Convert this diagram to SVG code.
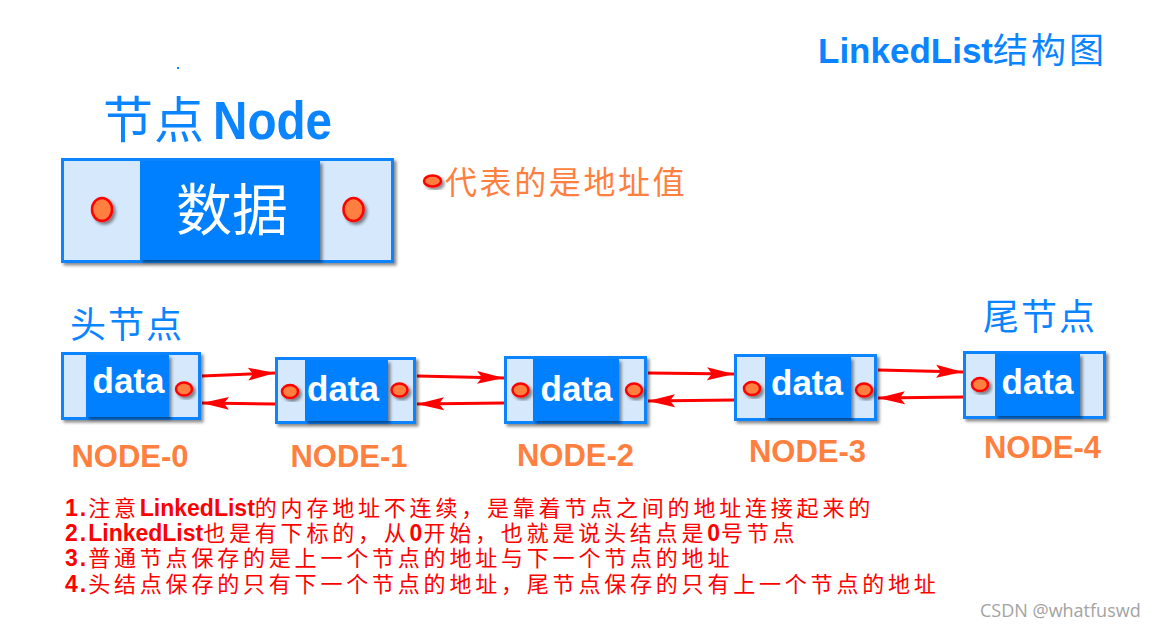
<svg xmlns="http://www.w3.org/2000/svg" width="1165" height="634" viewBox="0 0 1165 634">
  <style>
    .cjk { font-family: "Noto Sans CJK SC", "Liberation Sans", sans-serif; }
    .lat { font-family: "Liberation Sans", Arial, sans-serif; font-weight: bold; }
    .blue { fill: #0a84ff; }
    .orange { fill: #ff7f3f; }
    .red { fill: #ff0000; }
    .outer { fill: #d6e8fb; stroke: #0a84ff; stroke-width: 3; filter: url(#shadow); }
    .inner { fill: #0080ff; filter: url(#shadow); }
    .dot { fill: #ff7f40; stroke: #ff0000; stroke-width: 2.5; filter: url(#shadow); }
    .data { font-family: "Liberation Sans", Arial, sans-serif; font-weight: bold; font-size: 35px; fill: #ffffff; text-anchor: middle; }
    .label { font-family: "Liberation Sans", Arial, sans-serif; font-weight: bold; font-size: 31px; fill: #ff7f3f; text-anchor: middle; }
    .link { stroke: #ff0000; stroke-width: 3; fill: none; marker-end: url(#head); }
  </style>
  <defs>
    <filter id="shadow" x="-20%" y="-20%" width="150%" height="150%">
      <feDropShadow dx="2.5" dy="2.5" stdDeviation="1.5" flood-color="#000" flood-opacity="0.45"/>
    </filter>
    <marker id="head" markerUnits="userSpaceOnUse" markerWidth="30" markerHeight="16" refX="27" refY="8" orient="auto">
      <path d="M0,1.5 L27,8 L0,14.5 L5,8 Z" fill="#ff0000"/>
    </marker>
  </defs>

  <rect width="1165" height="634" fill="#ffffff"/>

  <!-- header -->
  <g id="title">
    <text x="818" y="63" class="blue"><tspan class="lat" font-size="35">LinkedList</tspan><tspan class="cjk" font-size="35" letter-spacing="3">结构图</tspan></text>
  </g>
  <rect x="177" y="67" width="2" height="2" fill="#0a84ff"/>

  <g id="node-title">
    <text x="103" y="138" class="cjk blue" font-size="50" letter-spacing="1">节点</text>
    <text x="213" y="139" class="lat blue" font-size="54" textLength="119" lengthAdjust="spacingAndGlyphs">Node</text>
  </g>

  <!-- node anatomy -->
  <g id="node-anatomy">
    <rect class="outer" x="62.5" y="159.5" width="330" height="102"/>
    <rect class="inner" x="140" y="161" width="180" height="99"/>
    <ellipse class="dot" cx="102" cy="209.5" rx="10" ry="11.5"/>
    <ellipse class="dot" cx="353.5" cy="209.5" rx="10" ry="11.5"/>
    <text x="176" y="230" class="cjk" font-size="56" fill="#ffffff">数据</text>
  </g>

  <g id="legend">
    <ellipse class="dot" cx="432.5" cy="181" rx="8.5" ry="5.5"/>
    <text x="445" y="194" class="cjk orange" font-size="32" letter-spacing="2.6">代表的是地址值</text>
  </g>

  <text id="head-label" x="70" y="338" class="cjk blue" font-size="36" letter-spacing="2">头节点</text>
  <text id="tail-label" x="983" y="330" class="cjk blue" font-size="36" letter-spacing="2">尾节点</text>

  <!-- connectors -->
  <g id="connectors">
    <line class="link" x1="202" y1="376" x2="275" y2="373"/>
    <line class="link" x1="275" y1="404" x2="202" y2="403"/>
    <line class="link" x1="417" y1="376" x2="504" y2="378"/>
    <line class="link" x1="504" y1="403" x2="417" y2="404"/>
    <line class="link" x1="648" y1="373" x2="734" y2="374"/>
    <line class="link" x1="734" y1="400" x2="648" y2="401"/>
    <line class="link" x1="878" y1="370" x2="963" y2="372"/>
    <line class="link" x1="963" y1="397" x2="878" y2="398"/>
  </g>

  <!-- list nodes -->
  <g id="node-0">
    <rect class="outer" x="62.5" y="353.5" width="137" height="65"/>
    <rect class="inner" x="86" y="355" width="83" height="62"/>
    <ellipse class="dot" cx="184" cy="389" rx="8" ry="6.5"/>
    <text class="data" x="128.5" y="393">data</text>
    <text class="label" x="130" y="467">NODE-0</text>
  </g>
  <g id="node-1">
    <rect class="outer" x="276.5" y="358.5" width="138" height="64"/>
    <rect class="inner" x="305" y="360" width="83" height="61"/>
    <ellipse class="dot" cx="290" cy="391.5" rx="8" ry="6.5"/>
    <ellipse class="dot" cx="399.5" cy="390" rx="8" ry="6.5"/>
    <text class="data" x="343" y="401">data</text>
    <text class="label" x="349" y="467">NODE-1</text>
  </g>
  <g id="node-2">
    <rect class="outer" x="505.5" y="357.5" width="140" height="65"/>
    <rect class="inner" x="533" y="359" width="86" height="62"/>
    <ellipse class="dot" cx="520.5" cy="390" rx="8" ry="6.5"/>
    <ellipse class="dot" cx="634" cy="390" rx="8" ry="6.5"/>
    <text class="data" x="576.5" y="401">data</text>
    <text class="label" x="575.5" y="466">NODE-2</text>
  </g>
  <g id="node-3">
    <rect class="outer" x="735.5" y="355.5" width="140" height="64"/>
    <rect class="inner" x="765" y="357" width="86" height="61"/>
    <ellipse class="dot" cx="752" cy="388.5" rx="8" ry="6.5"/>
    <ellipse class="dot" cx="864" cy="390" rx="8" ry="6.5"/>
    <text class="data" x="807" y="395">data</text>
    <text class="label" x="807.5" y="462">NODE-3</text>
  </g>
  <g id="node-4">
    <rect class="outer" x="964.5" y="352.5" width="140" height="65"/>
    <rect class="inner" x="995" y="354" width="85" height="62"/>
    <ellipse class="dot" cx="980" cy="384.5" rx="8" ry="6.5"/>
    <text class="data" x="1037.5" y="394">data</text>
    <text class="label" x="1042.5" y="458">NODE-4</text>
  </g>

  <!-- notes -->
  <g id="notes" class="red" font-size="22" letter-spacing="3.8">
    <text x="65" y="516"><tspan class="lat" font-size="23" letter-spacing="2">1.</tspan><tspan class="cjk">注意</tspan><tspan class="lat" font-size="23" letter-spacing="0">LinkedList</tspan><tspan class="cjk">的内存地址不连续，是靠着节点之间的地址连接起来的</tspan></text>
    <text x="65" y="541"><tspan class="lat" font-size="23" letter-spacing="2">2.</tspan><tspan class="lat" font-size="23" letter-spacing="0">LinkedList</tspan><tspan class="cjk">也是有下标的，从</tspan><tspan class="lat" font-size="23" letter-spacing="1">0</tspan><tspan class="cjk">开始，也就是说头结点是</tspan><tspan class="lat" font-size="23" letter-spacing="1">0</tspan><tspan class="cjk">号节点</tspan></text>
    <text x="65" y="566"><tspan class="lat" font-size="23" letter-spacing="2">3.</tspan><tspan class="cjk">普通节点保存的是上一个节点的地址与下一个节点的地址</tspan></text>
    <text x="65" y="592"><tspan class="lat" font-size="23" letter-spacing="2">4.</tspan><tspan class="cjk">头结点保存的只有下一个节点的地址，尾节点保存的只有上一个节点的地址</tspan></text>
  </g>

  <text id="watermark" x="980" y="617" font-family="'Open Sans', 'Noto Sans', sans-serif" font-size="18" fill="#a3a3a3">CSDN @whatfuswd</text>
</svg>
